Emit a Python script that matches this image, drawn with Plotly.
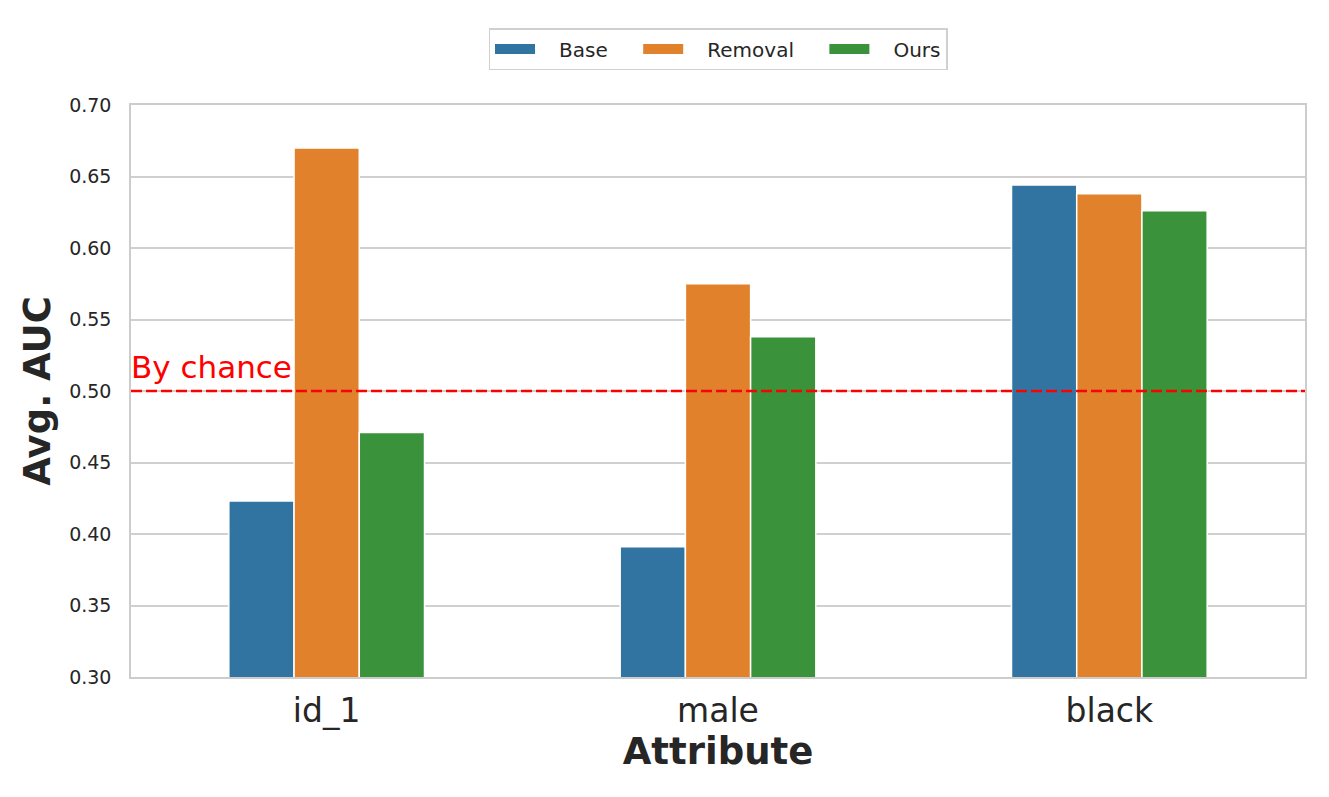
import plotly.graph_objects as go

categories = ["id_1", "male", "black"]
series_names = ["Base", "Removal", "Ours"]
base_vals = [0.423, 0.391, 0.644]
removal_vals = [0.670, 0.575, 0.638]
ours_vals = [0.471, 0.538, 0.626]
colors = ["#3274a1", "#e1812c", "#3a923a"]
y_ticks = [0.30, 0.35, 0.40, 0.45, 0.50, 0.55, 0.60, 0.65, 0.70]
chance_level = 0.5

PAD = "\u00a0" * 4
LEAD = "\u00a0" * 3

fig = go.Figure()
for name, vals, col in zip(series_names, [base_vals, removal_vals, ours_vals], colors):
    fig.add_trace(go.Bar(
        x=categories, y=vals, name=name, showlegend=False,
        marker=dict(color=col, line=dict(color="white", width=1.5)),
    ))
for i, (name, col) in enumerate(zip(series_names, colors)):
    label = LEAD + name + (PAD if i < len(series_names) - 1 else "")
    fig.add_trace(go.Scatter(
        x=[None], y=[None], mode="lines", name=label,
        line=dict(color=col, width=12), hoverinfo="skip",
    ))

fig.add_shape(type="line", xref="paper", yref="y", x0=0, x1=1,
              y0=chance_level, y1=chance_level,
              line=dict(color="red", width=2.5, dash="11px,4px"))
fig.add_annotation(xref="paper", yref="y", x=0, y=chance_level, yshift=4,
                   text="By chance", showarrow=False, xanchor="left", yanchor="bottom",
                   xshift=-2,
                   font=dict(color="red", size=31, family="DejaVu Sans"))

fig.update_layout(
    width=1329, height=797,
    margin=dict(l=123, r=32, t=97, b=128),
    plot_bgcolor="white", paper_bgcolor="white",
    barmode="group", bargap=0.5, bargroupgap=0,
    font=dict(family="DejaVu Sans", color="#262626"),
    legend=dict(orientation="h", x=0.5, xanchor="center", xref="paper",
                y=1 - 20 / 797, yanchor="top", yref="container",
                bordercolor="#d0d0d0", borderwidth=1.5, font=dict(size=20),
                itemwidth=40, traceorder="normal"),
    xaxis=dict(
        title=dict(text="<b>Attribute</b>", font=dict(size=37), standoff=6),
        tickfont=dict(size=33), showgrid=False, automargin=False,
        showline=True, linecolor="#cccccc", linewidth=1.5, mirror=True,
        ticks="outside", ticklen=4, tickcolor="rgba(0,0,0,0)",
    ),
    yaxis=dict(
        title=dict(text="<b>Avg. AUC</b>", font=dict(size=37), standoff=7),
        range=[0.30, 0.70], tickvals=y_ticks, ticktext=[f"{v:.2f}" for v in y_ticks],
        tickfont=dict(size=19), showgrid=True, gridcolor="#d0d0d0", gridwidth=1.5,
        showline=True, linecolor="#cccccc", linewidth=1.5, mirror=True,
        zeroline=False, automargin=False,
        ticks="outside", ticklen=14, tickcolor="rgba(0,0,0,0)",
    ),
)

fig.write_html("out.html")
